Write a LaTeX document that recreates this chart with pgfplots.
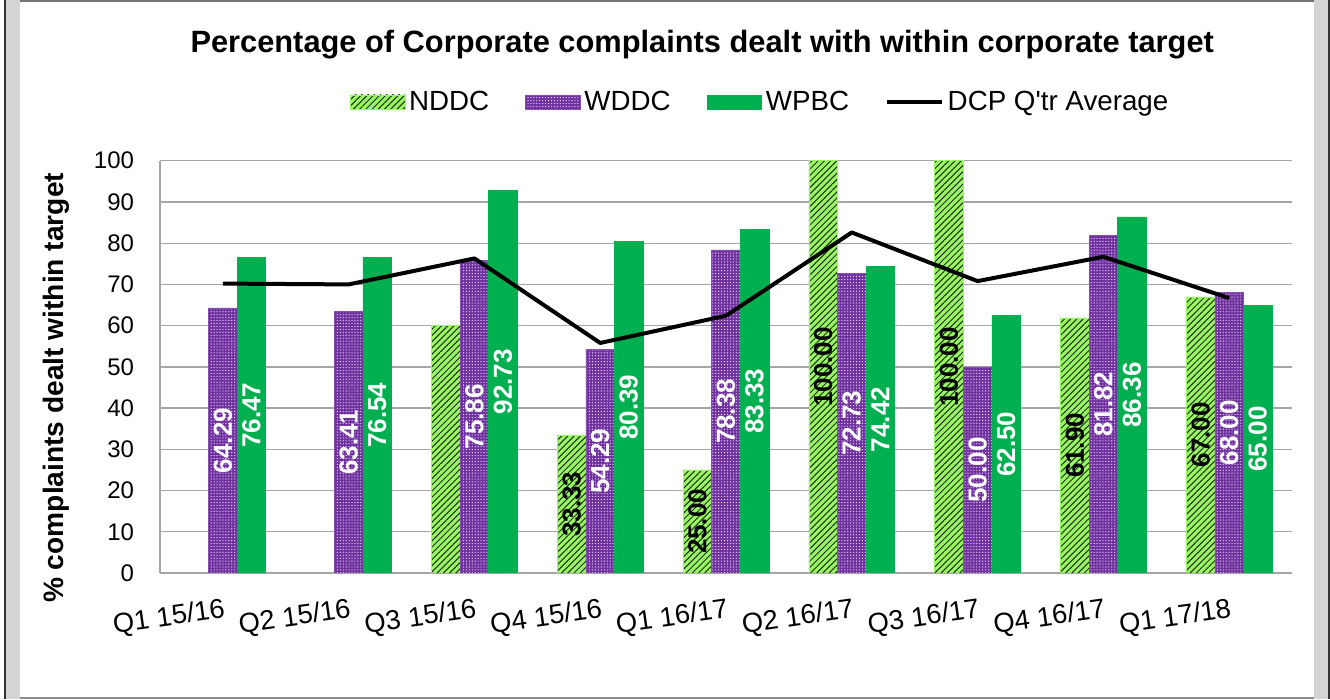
\documentclass[border=0pt]{standalone}
\usepackage{pgfplots}
\pgfplotsset{compat=1.18}
\usepackage{fontspec}
\setmainfont{Liberation Sans}
\usetikzlibrary{patterns,patterns.meta}
\definecolor{lgreen}{RGB}{150,250,95}
\definecolor{purp}{RGB}{112,48,160}
\definecolor{dgreen}{RGB}{0,176,80}
\definecolor{gridgray}{RGB}{166,166,166}
\definecolor{stripgray}{RGB}{212,212,212}

\pgfplotsset{
 barleg/.style={legend image code/.code={\draw[##1] (0pt,-5.5pt) rectangle (41pt,5.5pt);}},
 lineleg/.style={legend image code/.code={\draw[##1] (0pt,0pt) -- (41pt,0pt);}},
}

\pgfplotstableread{
x y lab
2 60 {}
3 33.33 33.33
4 25.00 25.00
5 100.00 100.00
6 100.00 100.00
7 61.90 61.90
8 67.00 67.00
}\nddc
\pgfplotstableread{
x y lab
0 64.29 64.29
1 63.41 63.41
2 75.86 75.86
3 54.29 54.29
4 78.38 78.38
5 72.73 72.73
6 50.00 50.00
7 81.82 81.82
8 68.00 68.00
}\wddc
\pgfplotstableread{
x y lab
0 76.47 76.47
1 76.54 76.54
2 92.73 92.73
3 80.39 80.39
4 83.33 83.33
5 74.42 74.42
6 62.50 62.50
7 86.36 86.36
8 65.00 65.00
}\wpbc
\pgfplotstableread{
x y
0 70.2
1 70.0
2 76.3
3 55.8
4 62.4
5 82.6
6 70.8
7 76.7
8 66.7
}\dcp

\begin{document}
\begin{tikzpicture}
\useasboundingbox (0,0) rectangle (997.5pt,524.25pt);
\begin{scope}[x=0.75pt,y=-0.75pt,yshift=524.25pt]
 \fill[stripgray] (5,0) rectangle (1328,699);
 \fill[white] (20,2.5) rectangle (1314,697);
 \draw[black!55, line width=1.5pt] (20,1.5) -- (1314,1.5);
 \draw[black!45, line width=1.5pt] (20,697.5) -- (1314,697.5);
 \draw[black!80, line width=1.5pt] (4.5,0) -- (4.5,699);
 \draw[black!80, line width=1.5pt] (1328.5,0) -- (1328.5,699);
\end{scope}
\begin{axis}[
 at={(120pt,94.5pt)}, anchor=south west,
 scale only axis, width=849pt, height=309.2pt,
 xmin=-0.5, xmax=8.5, ymin=0, ymax=100,
 ytick={0,10,...,100},
 xtick={0,...,8},
 xticklabels={Q1 15/16,Q2 15/16,Q3 15/16,Q4 15/16,Q1 16/17,Q2 16/17,Q3 16/17,Q4 16/17,Q1 17/18},
 ybar=0pt, bar width=21.4pt,
 ymajorgrids, major grid style={gridgray, line width=1pt},
 axis x line*=bottom, axis y line*=left,
 axis line style={gridgray, line width=1pt},
 major tick length=0pt,
 /pgf/number format/assume math mode=true,
 yticklabel style={xshift=-16pt, font=\fontsize{18}{20}\selectfont},
 xticklabel style={rotate=8, anchor=north east, yshift=-15pt, xshift=1pt, font=\fontsize{20.5}{22}\selectfont},
 ylabel={\% complaints dealt within target},
 ylabel style={at={(axis description cs:-0.092,0.449)}, anchor=center, font=\bfseries\fontsize{21.1}{23}\selectfont},
 title={Percentage of Corporate complaints dealt with within corporate target},
 title style={at={(axis description cs:0.479,1.263)}, anchor=center, font=\bfseries\fontsize{23.1}{26}\selectfont},
 legend style={at={(axis description cs:0.531,1.142)}, anchor=center, draw=none, fill=none,
   legend columns=4, font=\fontsize{20.8}{22}\selectfont,
   /tikz/every even column/.append style={column sep=24pt},
   nodes={inner xsep=3pt}},
 point meta=explicit symbolic,
 visualization depends on=rawy \as \rawy,
 nodes near coords style={yshift={-1.546pt*\rawy}, rotate=90, anchor=center, font=\bfseries\fontsize{19.5}{21}\selectfont},
]
\addplot[bar shift=-21.4pt, fill=lgreen, draw=lgreen,
  postaction={pattern={Lines[angle=45,distance=3.3pt,line width=0.75pt]}, pattern color=black!85},
  nodes near coords, nodes near coords style={text=black}, barleg]
  table[x=x,y=y,meta=lab]{\nddc};
\addlegendentry{NDDC}
\addplot[bar shift=0pt, fill=purp, draw=purp!85!white,
  postaction={pattern={Dots[distance=2.2pt,radius=0.5pt]}, pattern color=white!80!purp},
  nodes near coords, nodes near coords style={text=white}, barleg]
  table[x=x,y=y,meta=lab]{\wddc};
\addlegendentry{WDDC}
\addplot[bar shift=21.4pt, fill=dgreen, draw=dgreen,
  nodes near coords, nodes near coords style={text=white}, barleg]
  table[x=x,y=y,meta=lab]{\wpbc};
\addlegendentry{WPBC}
\addplot[sharp plot, black, line width=3pt, no marks, line join=round, lineleg]
  table[x=x,y=y]{\dcp};
\addlegendentry{DCP Q\textquotesingle tr Average}
\end{axis}
\end{tikzpicture}
\end{document}
